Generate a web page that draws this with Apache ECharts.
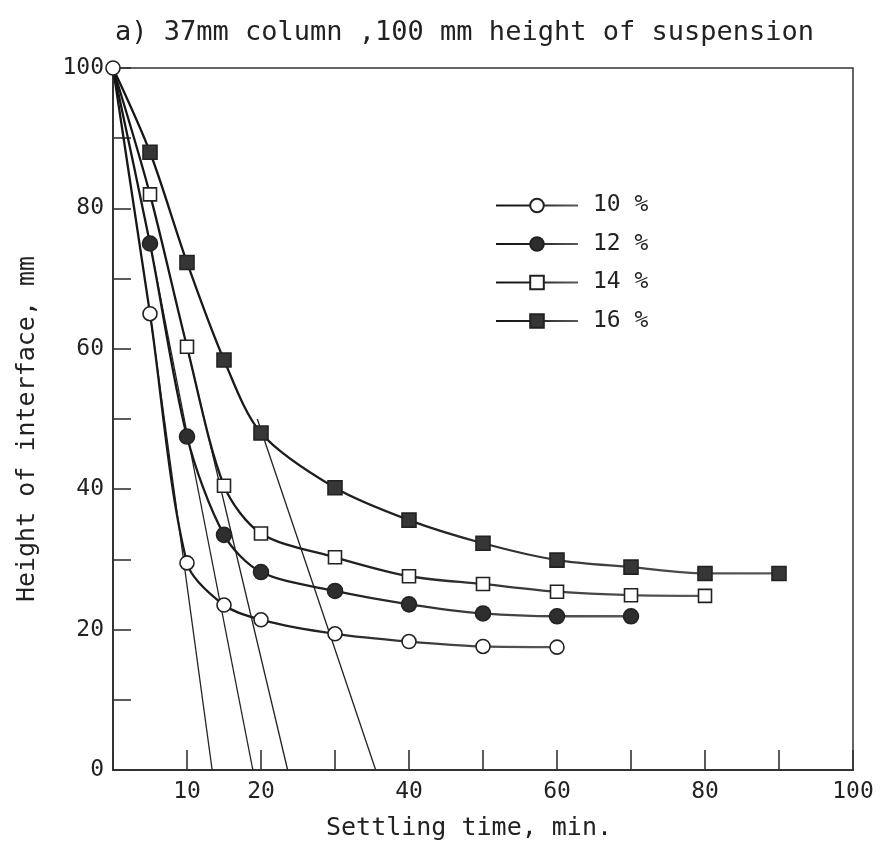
<!DOCTYPE html>
<html>
<head>
<meta charset="utf-8">
<script src="https://cdn.jsdelivr.net/npm/echarts@6/dist/echarts.min.js"></script>
<style>
  html, body { margin: 0; padding: 0; background: #fff; }
  #chart { width: 883px; height: 856px; }
</style>
</head>
<body>
<div id="chart"></div>
<script>
// Settling curves: interface height (mm) against settling time (min)
const times = [0, 5, 10, 15, 20, 30, 40, 50, 60, 70, 80, 90];
const h10 = [100, 65, 29.5, 23.5, 21.4, 19.4, 18.3, 17.6, 17.5];
const h12 = [100, 75, 47.5, 33.5, 28.2, 25.5, 23.6, 22.3, 21.9, 21.9];
const h14 = [100, 82, 60.3, 40.5, 33.7, 30.3, 27.6, 26.5, 25.4, 24.9, 24.8];
const h16 = [100, 88, 72.3, 58.4, 48.0, 40.2, 35.6, 32.3, 29.9, 28.9, 28.0, 28.0];
const seriesNames = ['10 %', '12 %', '14 %', '16 %'];

// Straight lines of the constant-rate stage: [start time, start height, intercept time]
const tangent10 = [5, 65, 13.4];
const tangent12 = [5, 75, 18.9];
const tangent14 = [10, 60.3, 23.6];
const tangent16 = [19.5, 50, 35.5];

const xLabels = [10, 20, 40, 60, 80, 100];
const yLabels = [0, 20, 40, 60, 80, 100];

const FONT = '"DejaVu Sans Mono", "Liberation Mono", monospace';
const INK = '#222';

function pairs(values, hideFirst) {
  return values.map((v, i) => {
    const item = { value: [times[i], v] };
    if (hideFirst && i === 0) item.symbol = 'none';
    return item;
  });
}

function fade() {
  return {
    type: 'linear', x: 0, y: 0, x2: 1, y2: 0,
    colorStops: [
      { offset: 0, color: '#151515' },
      { offset: 0.45, color: '#222' },
      { offset: 1, color: '#5a5a5a' }
    ]
  };
}

function curve(name, values, symbol, fill, size, hideFirst) {
  return {
    name: name,
    type: 'line',
    data: pairs(values, hideFirst),
    smooth: 0.3,
    symbol: symbol,
    symbolSize: size,
    showAllSymbol: true,
    lineStyle: { width: 2.3, color: fade() },
    itemStyle: { color: fill, borderColor: INK, borderWidth: 1.6 },
    z: 3
  };
}

function tangent(t) {
  return {
    type: 'line',
    data: [[t[0], t[1]], [t[2], 0]],
    symbol: 'none',
    silent: true,
    lineStyle: { width: 1.3, color: INK },
    z: 2
  };
}

const chart = echarts.init(document.getElementById('chart'), null, { renderer: 'canvas' });

chart.setOption({
  backgroundColor: '#fff',
  animation: false,
  title: {
    text: 'a) 37mm column ,100 mm height of suspension',
    left: 110,
    top: 14,
    textStyle: { fontFamily: FONT, fontSize: 27, fontWeight: 'normal', color: INK }
  },
  legend: {
    data: seriesNames,
    orient: 'vertical',
    left: 490,
    top: 189,
    itemWidth: 82,
    itemHeight: 17,
    itemGap: 15.5,
    textStyle: { fontFamily: FONT, fontSize: 23, color: INK, padding: [0, 0, 0, 10] },
    selectedMode: false
  },
  grid: {
    left: 113, right: 30, top: 68, bottom: 86,
    show: true, borderColor: '#333', borderWidth: 1.5, backgroundColor: 'transparent'
  },
  xAxis: {
    type: 'value',
    min: 0, max: 100, interval: 10,
    name: 'Settling time, min.',
    nameLocation: 'middle',
    nameGap: 46,
    nameTextStyle: { fontFamily: FONT, fontSize: 25, color: INK, padding: [0, 28, 0, 0] },
    axisLine: { lineStyle: { color: '#333', width: 2 } },
    axisTick: { inside: true, length: 20, lineStyle: { color: '#333', width: 1.6 } },
    axisLabel: {
      fontFamily: FONT, fontSize: 23, color: INK, margin: 11,
      formatter: v => (xLabels.indexOf(v) >= 0 ? String(v) : '')
    },
    splitLine: { show: false }
  },
  yAxis: {
    type: 'value',
    min: 0, max: 100, interval: 10,
    name: 'Height of interface, mm',
    nameLocation: 'middle',
    nameGap: 73,
    nameRotate: 90,
    nameTextStyle: { fontFamily: FONT, fontSize: 25, color: INK, padding: [0, 20, 0, 0] },
    axisLine: { lineStyle: { color: '#333', width: 2 } },
    axisTick: { inside: true, length: 18, lineStyle: { color: '#333', width: 1.6 } },
    axisLabel: {
      fontFamily: FONT, fontSize: 23, color: INK, margin: 9,
      formatter: v => (yLabels.indexOf(v) >= 0 ? String(v) : '')
    },
    splitLine: { show: false }
  },
  series: [
    curve(seriesNames[0], h10, 'circle', '#fff', 14, false),
    curve(seriesNames[1], h12, 'circle', '#2e2e2e', 15, true),
    curve(seriesNames[2], h14, 'rect', '#fff', 13, true),
    curve(seriesNames[3], h16, 'rect', '#363636', 14, true),
    tangent(tangent10),
    tangent(tangent12),
    tangent(tangent14),
    tangent(tangent16)
  ]
});
</script>
</body>
</html>
